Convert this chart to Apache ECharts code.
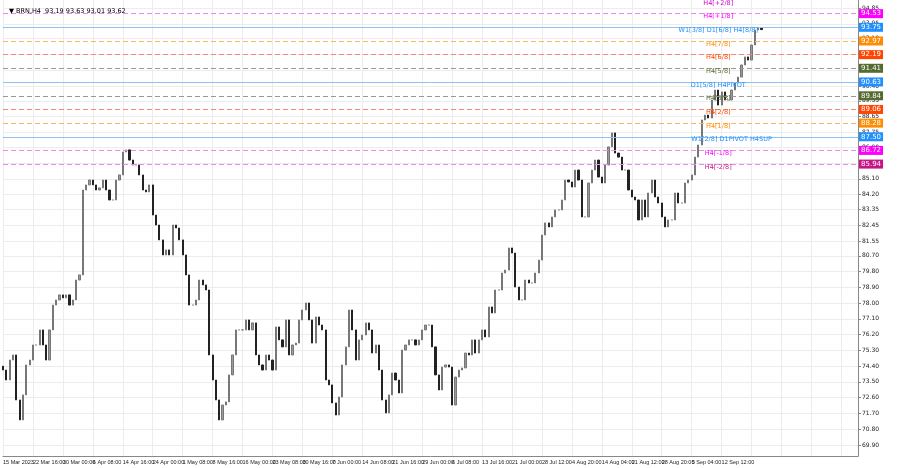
<!DOCTYPE html>
<html>
<head>
<meta charset="utf-8">
<script src="https://cdn.jsdelivr.net/npm/echarts@6/dist/echarts.min.js"></script>
<style>
  html, body { margin: 0; padding: 0; background: #fff; }
  #chart { width: 900px; height: 468px; }
</style>
</head>
<body>
<div id="chart"></div>
<script>
const closes = [
  74.18, 73.61, 74.75, 75.04, 72.47, 71.33, 72.76, 74.47, 74.75, 75.61, 75.61, 76.47,
  75.61, 74.75, 76.47, 77.89, 78.18, 78.47, 78.30, 78.47, 77.89, 78.18, 79.32, 79.61,
  84.46, 84.75, 85.03, 84.75, 84.46, 84.58, 85.03, 84.46, 83.89, 83.89, 85.03, 85.32,
  86.63, 86.75, 86.17, 85.89, 85.89, 85.32, 84.46, 84.35, 84.75, 83.03, 82.46, 81.61,
  80.75, 81.04, 80.75, 82.46, 82.29, 81.61, 80.75, 79.61, 77.89, 77.89, 78.18, 79.32,
  79.04, 78.75, 75.04, 73.61, 72.47, 71.33, 72.18, 72.36, 73.90, 75.04, 76.47, 76.47,
  76.47, 77.04, 76.47, 76.87, 75.04, 74.47, 74.18, 75.04, 74.75, 74.18, 76.64, 75.90,
  75.50, 77.04, 75.04, 75.61, 75.72, 77.04, 77.61, 78.01, 77.04, 75.72, 77.21, 76.75,
  76.47, 73.61, 73.33, 72.30, 71.61, 72.64, 74.47, 75.50, 77.61, 76.47, 74.75, 75.90,
  76.18, 76.87, 76.47, 75.15, 75.61, 74.18, 72.47, 71.73, 72.76, 74.01, 73.61, 72.87,
  75.32, 75.61, 75.90, 75.90, 75.61, 75.90, 76.47, 76.75, 76.75, 75.50, 73.90, 73.04,
  74.35, 74.47, 74.35, 72.18, 73.78, 74.18, 74.30, 75.15, 75.04, 75.90,
  75.15, 75.90, 76.47, 76.07, 77.78, 77.44, 78.75, 78.75, 79.72, 79.89, 81.15, 80.86,
  78.92, 78.18, 78.18, 79.32, 79.15, 79.15, 79.72, 80.46, 81.89, 82.58, 82.35, 82.92,
  83.32, 83.32, 83.89, 85.03, 84.92, 84.63, 85.60, 85.03, 82.92, 82.92, 84.86, 85.60,
  86.17, 85.20, 84.86, 85.89, 86.92, 87.72, 86.57, 86.34, 85.60, 85.60, 84.46, 84.06,
  83.89, 82.75, 83.89, 82.92, 84.29, 85.03, 84.06, 83.72, 82.92, 82.35, 82.75, 82.75,
  84.29, 83.72, 83.72, 84.86, 85.03, 85.32, 86.34, 87.03,
  88.46, 88.74, 88.57, 89.60, 90.17, 89.31, 90.06, 89.60, 89.60, 90.17, 90.57, 90.91,
  91.60, 92.06, 91.88, 92.74, 93.60, 93.71, 93.62
];
const firstOpen = 74.40;

const dateLabels = [
  '15 Mar 2023', '22 Mar 16:00', '30 Mar 00:00', '6 Apr 08:00', '14 Apr 16:00',
  '24 Apr 00:00', '1 May 08:00', '8 May 16:00', '16 May 00:00', '23 May 08:00',
  '30 May 16:00', '7 Jun 00:00', '14 Jun 08:00', '21 Jun 16:00', '29 Jun 00:00',
  '6 Jul 08:00', '13 Jul 16:00', '21 Jul 00:00', '28 Jul 12:00', '4 Aug 20:00',
  '14 Aug 04:00', '21 Aug 12:00', '28 Aug 20:00', '5 Sep 04:00', '12 Sep 12:00'
];
const priceTicks = [
  94.85, 93.95, 93.10, 92.20, 91.30, 90.40, 89.55, 88.65, 87.75, 86.90, 86.00, 85.10,
  84.20, 83.35, 82.45, 81.55, 80.70, 79.80, 78.90, 78.00, 77.10, 76.20, 75.30, 74.40,
  73.50, 72.60, 71.70, 70.80, 69.90
];

// Murrey levels
const levelNames = ['H4[+2/8]', 'H4[+1/8]', 'W1[3/8] D1[6/8] H4[8/8]', 'H4[7/8]', 'H4[6/8]', 'H4[5/8]',
  'D1[5/8] H4PIVOT', 'H4[3/8]', 'H4[2/8]', 'H4[1/8]', 'W1[2/8] D1PIVOT H4SUP', 'H4[-1/8]', 'H4[-2/8]'];
const levelValues = [95.31, 94.53, 93.75, 92.97, 92.19, 91.41, 90.63, 89.84, 89.06, 88.28, 87.50, 86.72, 85.94];
const levelColors = ['#d000d0', '#ff00ff', '#1e90ff', '#ff8c00', '#ff4500', '#556b2f', '#1e90ff',
  '#556b2f', '#ff4500', '#ff8c00', '#1e90ff', '#ff00ff', '#c71585'];
const levelLineColors = ['#ee88ee', '#ee88ee', '#8fc2f0', '#f7b866', '#f58c72', '#999999', '#8fc2f0',
  '#999999', '#f58c72', '#f7b866', '#8fc2f0', '#ee88ee', '#ee88ee'];
const levelSolid = [false, false, true, false, false, false, true, false, false, false, true, false, false];

const totalSlots = 258;
const labelEvery = 9;
const textSlot = 215;

const categories = [];
for (let i = 0; i < totalSlots; i++) categories.push(i);

const ohlc = closes.map((c, i) => {
  const o = i === 0 ? firstOpen : closes[i - 1];
  return [o, c, Math.min(o, c), Math.max(o, c)];
});

const markLines = levelValues.slice(1).map((v, k) => {
  const i = k + 1;
  return {
    yAxis: v,
    lineStyle: {color: levelLineColors[i], type: levelSolid[i] ? 'solid' : [5, 3], width: 1, opacity: 1},
    label: {
      show: true, position: 'end', distance: 1, formatter: v.toFixed(2),
      color: '#fff', backgroundColor: levelColors[i], padding: [1, 2], fontSize: 7,
      fontFamily: 'DejaVu Sans'
    }
  };
});

const markPoints = levelValues.map((v, i) => ({
  coord: [i === 10 ? textSlot + 4 : textSlot, v],
  symbol: 'circle',
  symbolSize: 1,
  itemStyle: {color: 'rgba(0,0,0,0)'},
  label: {
    show: true, position: 'inside', formatter: levelNames[i], color: levelColors[i], fontSize: 6.5,
    fontFamily: 'DejaVu Sans', offset: [0, 3]
  }
}));

const chart = echarts.init(document.getElementById('chart'));
chart.setOption({
  animation: false,
  backgroundColor: '#fff',
  grid: {left: 1, right: 42, top: 0, bottom: 12},
  title: {
    text: '▼ BRN,H4  93.19 93.63 93.01 93.62', left: 4, top: 3,
    textStyle: {fontSize: 6.5, fontWeight: 'normal', color: '#000', fontFamily: 'DejaVu Sans'}
  },
  xAxis: {
    type: 'category', data: categories, boundaryGap: false,
    axisLine: {lineStyle: {color: '#888'}},
    axisTick: {show: false},
    axisLabel: {
      interval: 0, fontSize: 5.5, color: '#222', margin: 3, align: 'left',
      fontFamily: 'Liberation Sans', showMinLabel: true, hideOverlap: false,
      formatter: (v) => (v % labelEvery === 0 ? (dateLabels[v / labelEvery] || '') : '')
    },
    splitLine: {show: true, interval: labelEvery - 1, lineStyle: {color: '#ececec'}}
  },
  yAxis: {
    type: 'value', position: 'right', min: 69.27, max: 95.31, scale: true,
    axisLine: {show: true, lineStyle: {color: '#888'}},
    axisTick: {show: true, customValues: priceTicks, length: 3, lineStyle: {color: '#888'}},
    axisLabel: {
      customValues: priceTicks, fontSize: 6, color: '#222', margin: 4,
      fontFamily: 'DejaVu Sans', formatter: (v) => v.toFixed(2)
    },
    splitLine: {show: true, lineStyle: {color: '#ececec'}}
  },
  series: [{
    type: 'candlestick',
    data: ohlc,
    barMaxWidth: 2,
    itemStyle: {color: '#9a9a9a', color0: '#222', borderColor: '#777', borderColor0: '#222', borderWidth: 1},
    markLine: {symbol: 'none', silent: true, data: markLines},
    markPoint: {silent: true, data: markPoints}
  }]
});
</script>
</body>
</html>
